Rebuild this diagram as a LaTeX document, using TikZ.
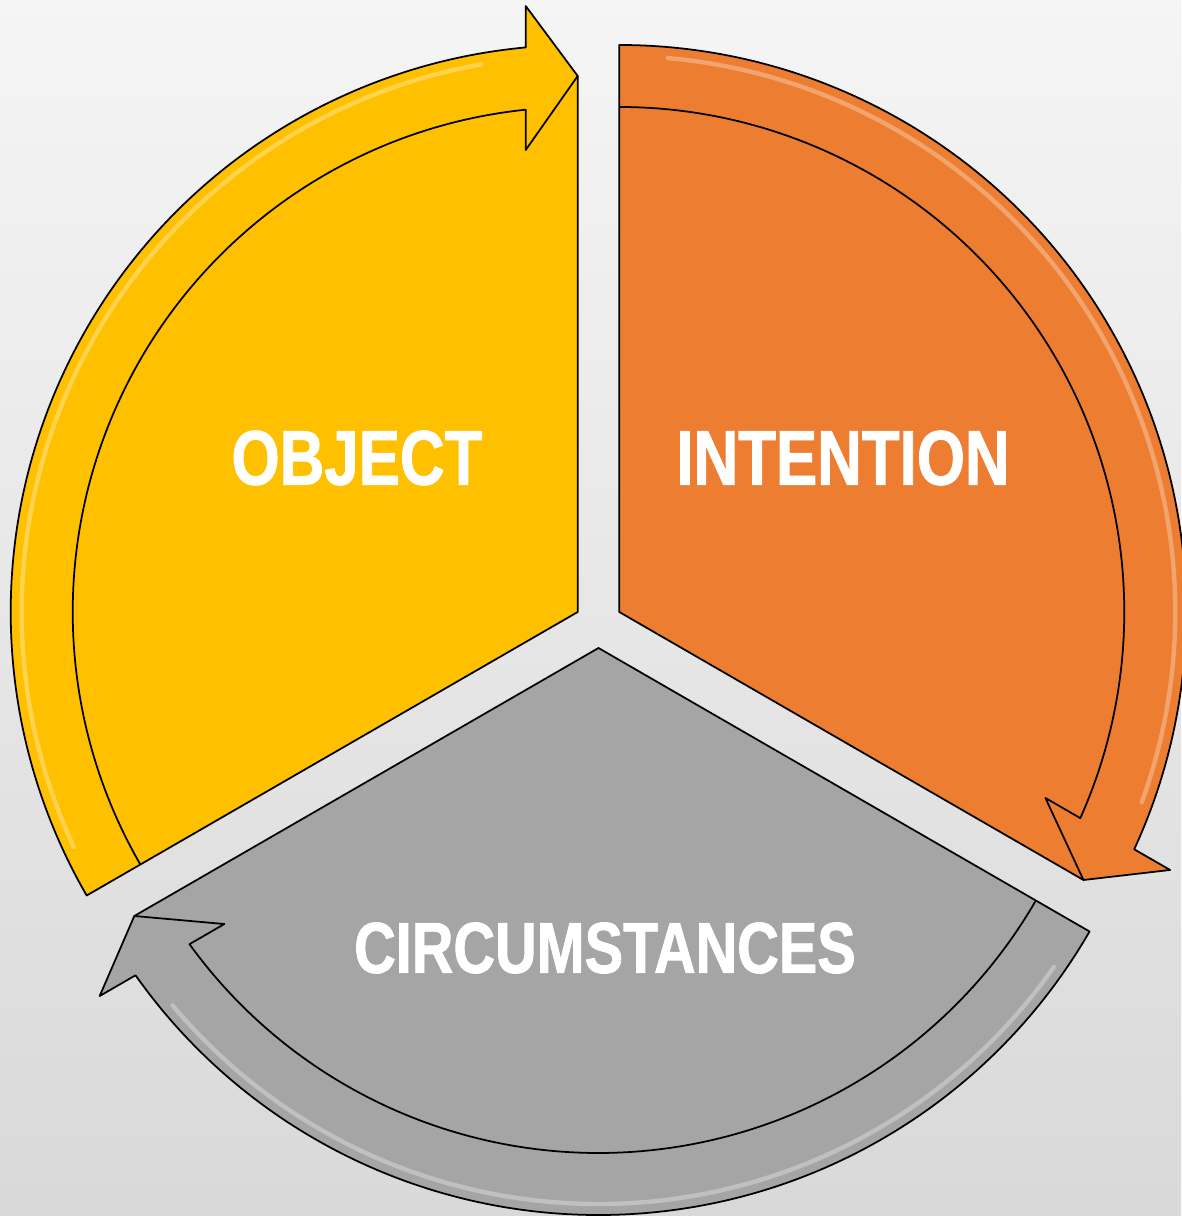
\documentclass[tikz,border=0pt]{standalone}
\usepackage{fontspec}
\newfontfamily\labelfont[FakeStretch=0.8, FakeBold=1.2]{Liberation Sans}
\definecolor{objectgold}{HTML}{FFC000}
\definecolor{intentorange}{HTML}{ED7D31}
\definecolor{circgray}{HTML}{A5A5A5}
\tikzset{
  segment/.style={draw=black, line width=1pt, line join=round},
  glint/.style={draw=white, opacity=0.3, line width=2.5pt, line cap=round},
  seglabel/.style={text=white, inner sep=0pt, font=\labelfont\bfseries\fontsize{44}{44}\selectfont},
}
\begin{document}
\begin{tikzpicture}[x=0.02cm, y=0.02cm]
  \shade[top color=white!96!black, bottom color=white!85!black] (-598.5,-592) rectangle (582.5,624);
  \useasboundingbox (-598.5,-592) rectangle (582.5,624);

  % object
  \begin{scope}[shift={(150:24)}]
    \filldraw[segment, fill=objectgold] (0,0) -- (210:567) arc[start angle=210, end angle=95.26, radius=567] -- (-52,606) -- (0,536) -- cycle;
    \draw[segment] (0,536) -- (-52,462) -- (95.91:505) arc[start angle=95.91, end angle=210, radius=505];
    \draw[glint] (205:556) arc[start angle=205, end angle=100, radius=556];
  \end{scope}

  % intention
  \begin{scope}[shift={(30:24)}, rotate=-120]
    \filldraw[segment, fill=intentorange] (0,0) -- (210:567) arc[start angle=210, end angle=95.26, radius=567] -- (-52,606) -- (0,536) -- cycle;
    \draw[segment] (0,536) -- (-52,462) -- (95.91:505) arc[start angle=95.91, end angle=210, radius=505];
    \draw[glint] (205:556) arc[start angle=205, end angle=100, radius=556];
  \end{scope}

  % circumstances
  \begin{scope}[shift={(270:24)}, rotate=120]
    \filldraw[segment, fill=circgray] (0,0) -- (210:567) arc[start angle=210, end angle=95.26, radius=567] -- (-52,606) -- (0,536) -- cycle;
    \draw[segment] (0,536) -- (-52,462) -- (95.91:505) arc[start angle=95.91, end angle=210, radius=505];
    \draw[glint] (205:556) arc[start angle=205, end angle=100, radius=556];
  \end{scope}

  \node[seglabel] (object) at (-241.5,166) {OBJECT};
  \node[seglabel] (intention) at (244.5,166) {INTENTION};
  \node[seglabel, font=\labelfont\bfseries\fontsize{41}{41}\selectfont] (circumstances) at (6.5,-324) {CIRCUMSTANCES};
\end{tikzpicture}
\end{document}
